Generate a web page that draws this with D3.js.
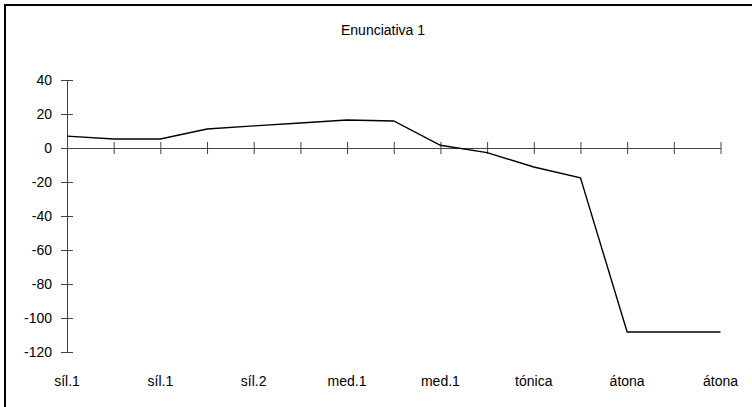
<!DOCTYPE html>
<html>
<head>
<meta charset="utf-8">
<script src="https://cdn.jsdelivr.net/npm/d3@7"></script>
<style>
  body { margin: 0; background: #fff; overflow: hidden; }
  svg { display: block; font-family: "Liberation Sans", Arial, sans-serif; }
</style>
</head>
<body>
<div id="chart"></div>
<script>
// datos
const categories = ["síl.1", "síl.1", "síl.1", "síl.1", "síl.2", "síl.2", "med.1", "med.1",
                    "med.1", "tónica", "tónica", "tónica", "átona", "átona", "átona"];
const values = [7, 5.3, 5.3, 11.2, 13, 14.7, 16.5, 15.9, 1.6, -2.7, -11.2, -17.6, -108.2, -108.2, -108.2];
const yTicks = [40, 20, 0, -20, -40, -60, -80, -100, -120];
const title = "Enunciativa 1";

const width = 752, height = 407;

const svg = d3.select("#chart").append("svg")
    .attr("width", width)
    .attr("height", height);

// marco: solo borde izquierdo y superior
svg.append("path")
    .attr("d", `M5,${height} L5,5 L${width},5`)
    .attr("fill", "none")
    .attr("stroke", "#000")
    .attr("stroke-width", 2);

const idx = d3.range(categories.length);
const x = d3.scalePoint().domain(idx).range([67, 720.5]);
const y = d3.scaleLinear().domain([-120, 40]).range([352, 80]);

svg.append("text")
    .attr("x", 383).attr("y", 35)
    .attr("text-anchor", "middle")
    .attr("font-size", 14)
    .text(title);

// eje Y
const yAxis = svg.append("g")
    .attr("transform", `translate(${x(0)},0)`)
    .call(d3.axisLeft(y).tickValues(yTicks).tickSizeInner(6).tickSizeOuter(0).tickPadding(9)
        .tickFormat(d => String(d)));
yAxis.select(".domain").attr("stroke", "#444");
yAxis.selectAll(".tick line").attr("x2", 6).attr("x1", -6).attr("stroke", "#444");
yAxis.selectAll(".tick text").attr("font-size", 14).attr("fill", "#000")
    .attr("font-family", "Liberation Sans, Arial, sans-serif");

// eje X en y = 0
const xAxis = svg.append("g")
    .attr("transform", `translate(0,${y(0)})`)
    .call(d3.axisBottom(x).tickSize(6).tickSizeOuter(0).tickFormat(() => ""));
xAxis.select(".domain").attr("stroke", "#444");
xAxis.selectAll(".tick line").attr("y1", -6).attr("y2", 6).attr("stroke", "#444");

// etiquetas de categoría (una de cada dos)
svg.append("g")
    .selectAll("text")
    .data(idx.filter(i => i % 2 === 0))
    .enter()
    .append("text")
    .attr("x", i => x(i))
    .attr("y", 386)
    .attr("text-anchor", "middle")
    .attr("font-size", 14)
    .text(i => categories[i]);

// línea
const line = d3.line()
    .x((d, i) => x(i))
    .y(d => y(d));

svg.append("path")
    .datum(values)
    .attr("fill", "none")
    .attr("stroke", "#000")
    .attr("stroke-width", 1.4)
    .attr("d", line);
</script>
</body>
</html>
